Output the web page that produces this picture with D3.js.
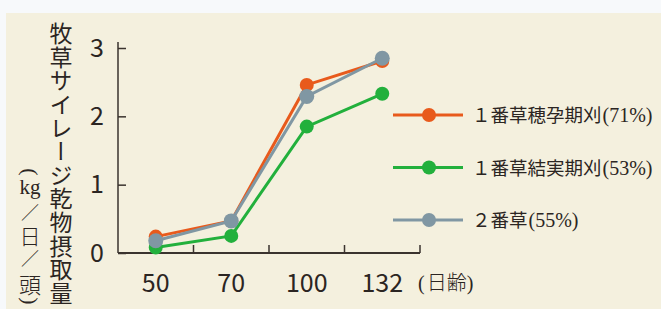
<!DOCTYPE html>
<html>
<head>
  <meta charset="utf-8">
  <title>牧草サイレージ乾物摂取量</title>
  <style>
    body { margin: 0; background: #f7f9fb; }
    text { font-family: "Noto Sans CJK JP", sans-serif; fill: #2b2522; }
  </style>
  <script src="https://cdn.jsdelivr.net/npm/d3@7"></script>
</head>
<body>
  <div id="chart"></div>
  <script>
    // data
    const ages = ["50", "70", "100", "132"];
    const seriesNames = ["１番草穂孕期刈", "１番草結実期刈", "２番草"];
    const seriesPct = ["(71%)", "(53%)", "(55%)"];
    const seriesColors = ["#e85a1c", "#22b03c", "#8097a3"];
    const heading = [0.24, 0.47, 2.46, 2.81];
    const ripening = [0.08, 0.25, 1.85, 2.33];
    const second = [0.18, 0.47, 2.29, 2.85];
    const yTicks = [0, 1, 2, 3];

    const width = 661, height = 309;
    const serif = "'Liberation Serif', 'DejaVu Serif', serif";
    const svg = d3.select("#chart").append("svg")
      .attr("width", width)
      .attr("height", height);

    // cream panel
    svg.append("rect")
      .attr("x", 6).attr("y", 13)
      .attr("width", width - 6).attr("height", height - 13)
      .attr("fill", "#f4f0de");

    const x = d3.scaleBand().domain(ages).range([118, 420]);
    const y = d3.scaleLinear().domain([0, 3]).range([253, 48]);
    const axisColor = "#3a332e";

    // y axis
    const yAxis = svg.append("g")
      .attr("transform", "translate(118,0)")
      .call(d3.axisLeft(y).tickValues(yTicks).tickSize(-8).tickPadding(14).tickFormat(d3.format("d")));
    yAxis.select(".domain").remove();
    yAxis.selectAll("line").attr("stroke", axisColor).attr("stroke-width", 1.5);
    yAxis.selectAll("text")
      .attr("font-size", 25)
      .attr("fill", "#2b2522")
      .style("font-family", "'Noto Sans CJK JP', sans-serif");
    svg.append("line")
      .attr("x1", 118).attr("x2", 118)
      .attr("y1", y(3) - 6).attr("y2", y(0))
      .attr("stroke", axisColor).attr("stroke-width", 1.5);

    // x axis
    svg.append("line")
      .attr("x1", x.range()[0]).attr("x2", x.range()[1])
      .attr("y1", y(0)).attr("y2", y(0))
      .attr("stroke", axisColor).attr("stroke-width", 2);
    svg.append("g").selectAll("line")
      .data(ages)
      .join("line")
      .attr("x1", d => x(d) + x.bandwidth())
      .attr("x2", d => x(d) + x.bandwidth())
      .attr("y1", y(0) - 8).attr("y2", y(0))
      .attr("stroke", axisColor).attr("stroke-width", 1.5);
    svg.append("g").selectAll("text")
      .data(ages)
      .join("text")
      .attr("x", d => x(d) + x.bandwidth() / 2)
      .attr("y", 292)
      .attr("text-anchor", "middle")
      .attr("font-size", 25)
      .text(d => d);
    const unitX = svg.append("text")
      .attr("x", 418).attr("y", 290)
      .attr("font-size", 20);
    unitX.append("tspan").style("font-family", serif).text("(");
    unitX.append("tspan").attr("dx", 2).style("font-weight", 300).text("日齢");
    unitX.append("tspan").style("font-family", serif).text(")");

    // lines + points
    const allSeries = [heading, ripening, second];
    const line = d3.line()
      .x((d, i) => x(ages[i]) + x.bandwidth() / 2)
      .y(d => y(d));
    allSeries.forEach((vals, k) => {
      const g = svg.append("g");
      g.append("path")
        .datum(vals)
        .attr("d", line)
        .attr("fill", "none")
        .attr("stroke", seriesColors[k])
        .attr("stroke-width", 3);
      g.selectAll("circle")
        .data(vals)
        .join("circle")
        .attr("cx", (d, i) => x(ages[i]) + x.bandwidth() / 2)
        .attr("cy", d => y(d))
        .attr("r", k === 2 ? 7.5 : 7)
        .attr("fill", seriesColors[k]);
    });

    // legend
    const legend = svg.append("g");
    seriesNames.forEach((name, k) => {
      const ly = 115 + k * 52.5;
      legend.append("line")
        .attr("x1", 393).attr("x2", 463)
        .attr("y1", ly).attr("y2", ly)
        .attr("stroke", seriesColors[k]).attr("stroke-width", 3);
      legend.append("circle")
        .attr("cx", 429).attr("cy", ly).attr("r", 7)
        .attr("fill", seriesColors[k]);
      const t = legend.append("text")
        .attr("x", 472).attr("y", ly + 7)
        .attr("font-size", 18.5);
      t.append("tspan").text(name);
      t.append("tspan")
        .style("font-family", serif)
        .attr("font-size", 20)
        .attr("dx", 1)
        .text(seriesPct[k]);
    });

    // vertical y-axis title
    svg.append("text")
      .attr("x", 61).attr("y", 22)
      .attr("font-size", 23)
      .style("writing-mode", "vertical-rl")
      .style("letter-spacing", "0.6px")
      .text("牧草サイレージ乾物摂取量");

    // unit label, stacked vertically
    const unit = svg.append("g").style("font-weight", 300);
    unit.append("text")
      .attr("transform", "translate(30,172) rotate(90)")
      .attr("text-anchor", "middle").attr("dy", "0.32em")
      .attr("font-size", 22)
      .style("font-family", serif)
      .text("(");
    const unitParts = [
      { t: "kg", y: 194, s: 21, f: serif },
      { t: "／", y: 219, s: 18, f: null },
      { t: "日", y: 244, s: 21, f: null },
      { t: "／", y: 265, s: 18, f: null },
      { t: "頭", y: 293, s: 22, f: null }
    ];
    unit.append("text")
      .attr("text-anchor", "middle")
      .selectAll("tspan")
      .data(unitParts)
      .join("tspan")
      .attr("x", 30)
      .attr("y", d => d.y)
      .attr("font-size", d => d.s)
      .style("font-family", d => d.f)
      .text(d => d.t);
    unit.append("text")
      .attr("transform", "translate(30,301) rotate(90)")
      .attr("text-anchor", "middle").attr("dy", "0.32em")
      .attr("font-size", 22)
      .style("font-family", serif)
      .text(")");
  </script>
</body>
</html>
